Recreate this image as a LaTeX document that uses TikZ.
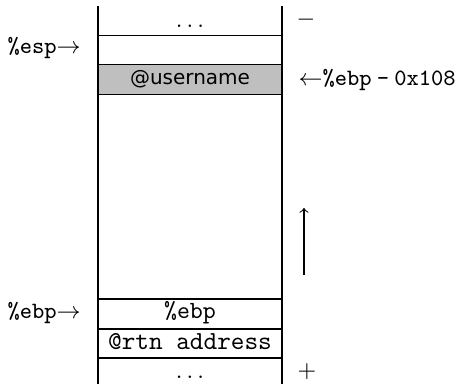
\documentclass[tikz,border=0pt]{standalone}
\usepackage{fontspec}
\newfontfamily\cellsans{DejaVu Sans}
\newcommand{\fs}[1]{\fontsize{#1}{#1}\selectfont}
\begin{document}
\begin{tikzpicture}[x=0.385pt,y=-0.385pt,
    lbl/.style={inner sep=0pt},
    rule/.style={line width=0.45pt}]
  \useasboundingbox (0,0) rectangle (460,384);
  % stack frame: shaded buffer slot
  \path[fill=gray!50] (98,64.5) rectangle (282,94.5);
  \coordinate (tl) at (98,6);   \coordinate (tr) at (282,6);
  \coordinate (bl) at (98,384); \coordinate (br) at (282,384);
  \draw[rule] (tl) -- (bl);
  \draw[rule] (tr) -- (br);
  \foreach \y in {35.5,64.5,94.5,299,329,358}
    \draw[rule] (98,\y) -- (282,\y);
  % cell contents
  \node[lbl,anchor=base] (topdots) at (190,27) {\fs{9}$\ldots$};
  \node[lbl] (user) at (190,79.5) {\cellsans\fs{7.7}@username};
  \node[lbl] (ebpcell) at (190,313) {\fs{9.5}\texttt{\%ebp}};
  \node[lbl] (rtn) at (190,342) {\fs{10}\texttt{@rtn address}};
  \node[lbl,anchor=base] (botdots) at (190,378) {\fs{9}$\ldots$};
  % pointers
  \node[lbl,anchor=west] (esp) at (7,48) {\fs{9}\texttt{\%esp}$\rightarrow$};
  \node[lbl,anchor=west] (ebp) at (7,313) {\fs{9}\texttt{\%ebp}$\rightarrow$};
  \node[lbl,anchor=west] (off) at (298,80)
    {\fs{9}$\leftarrow$\texttt{\%ebp}\hspace{2pt}\texttt{-}\hspace{2pt}\texttt{0x108}};
  \node[lbl] (minus) at (306,20) {\fs{9}$-$};
  \node[lbl] (plus) at (307,372) {\fs{9}$+$};
  % growth direction
  \coordinate (g0) at (304,275);
  \coordinate (g1) at (304,208);
  \draw[line width=0.4pt,-to] (g0) -- (g1);
\end{tikzpicture}
\end{document}
